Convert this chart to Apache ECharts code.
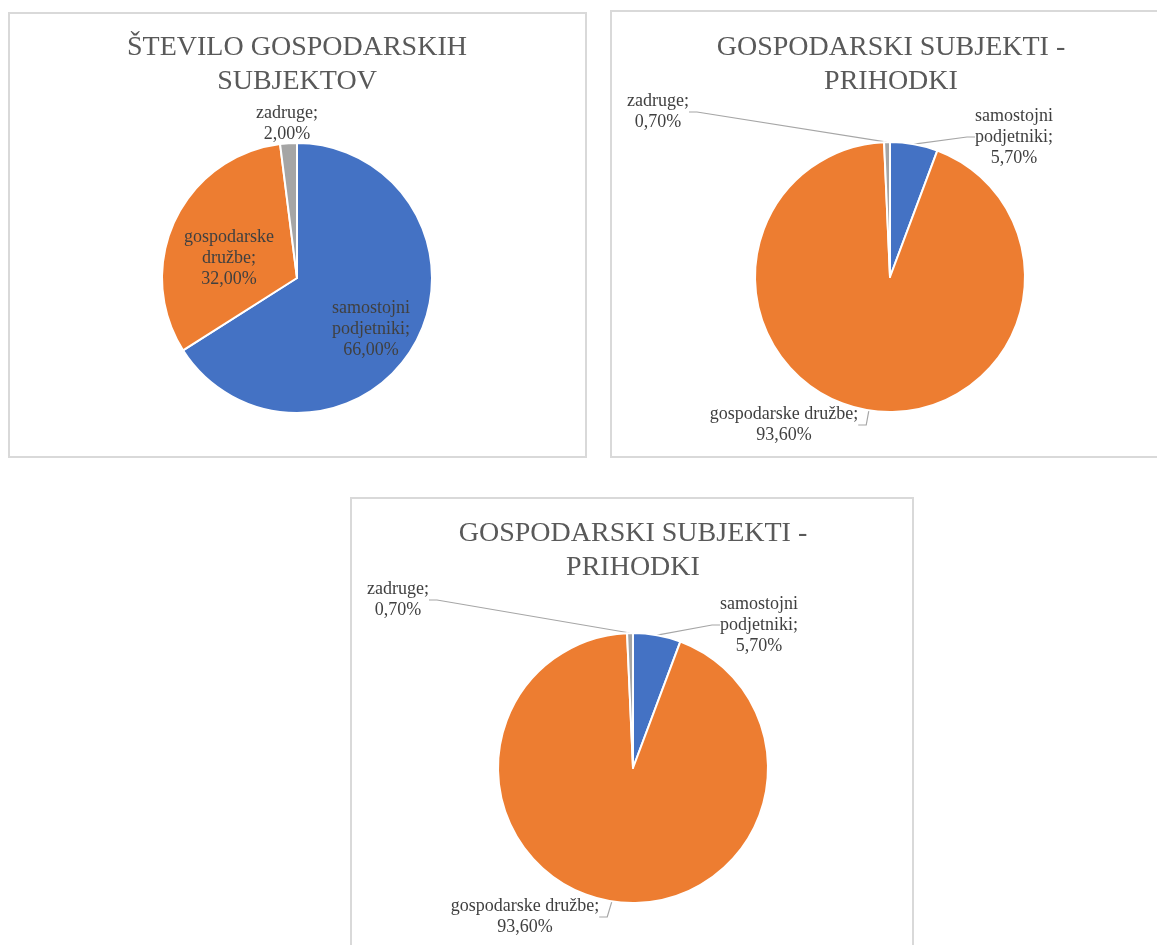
<!DOCTYPE html>
<html>
<head>
<meta charset="utf-8">
<title>Gospodarski subjekti</title>
<script src="https://cdn.jsdelivr.net/npm/echarts@6/dist/echarts.min.js"></script>
<style>
    html, body { margin: 0; padding: 0; background: #fff; }
    #main { width: 1157px; height: 945px; }
</style>
</head>
<body>
<div id="main"></div>
<script>
// podatki
var kategorije = ['samostojni podjetniki', 'gospodarske družbe', 'zadruge'];
var steviloDelez = [66, 32, 2];
var prihodkiDelez = [5.7, 93.6, 0.7];
var prihodkiDelez2 = [5.7, 93.6, 0.7];
var oznake1 = ['samostojni\npodjetniki;', 'gospodarske\ndružbe;', 'zadruge;'];
var oznake2 = ['samostojni\npodjetniki;', 'gospodarske družbe;', 'zadruge;'];
var naslovi = ['ŠTEVILO GOSPODARSKIH\nSUBJEKTOV', 'GOSPODARSKI SUBJEKTI -\nPRIHODKI', 'GOSPODARSKI SUBJEKTI -\nPRIHODKI'];

var barve = ['#4472c4', '#ed7d31', '#a5a5a5'];
var pisava = 'Liberation Serif';

function podatki(vrednosti, oznake) {
    return kategorije.map(function (k, i) {
        return { name: k, value: vrednosti[i], oznaka: oznake[i] };
    });
}

function odstotek(params) {
    return params.data.oznaka + '\n' + params.value.toFixed(2).replace('.', ',') + '%';
}

// pozicije oznak (v pikslih) za vsak graf
function postavi(pos) {
    return function (params) {
        var p = pos[params.dataIndex];
        return { x: p[0], y: p[1], align: 'center', verticalAlign: 'middle' };
    };
}

function naslov(text, x, y) {
    return {
        text: text,
        left: x,
        top: y,
        textAlign: 'center',
        padding: 0,
        textStyle: {
            fontFamily: pisava,
            fontSize: 28,
            lineHeight: 34,
            fontWeight: 'normal',
            color: '#595959'
        }
    };
}

function pita(vrednosti, oznake, center, pos, crta) {
    return {
        type: 'pie',
        radius: 135,
        center: center,
        startAngle: 90,
        clockwise: true,
        avoidLabelOverlap: false,
        animation: false,
        color: barve,
        itemStyle: { borderColor: '#fff', borderWidth: 2 },
        label: {
            show: true,
            position: 'outside',
            formatter: odstotek,
            fontFamily: pisava,
            fontSize: 18,
            lineHeight: 21,
            color: '#404040'
        },
        labelLine: {
            show: crta,
            length: 10,
            length2: 8,
            lineStyle: { color: '#a6a6a6', width: 1.2 }
        },
        labelLayout: postavi(pos),
        emphasis: { disabled: true },
        data: podatki(vrednosti, oznake)
    };
}

var chart = echarts.init(document.getElementById('main'));
chart.setOption({
    backgroundColor: '#fff',
    title: [
        naslov(naslovi[0], 297, 31),
        naslov(naslovi[1], 891, 31),
        naslov(naslovi[2], 633, 517)
    ],
    graphic: [
        { type: 'rect', shape: { x: 9, y: 13, width: 577, height: 444 }, style: { fill: 'none', stroke: '#d9d9d9', lineWidth: 2 } },
        { type: 'rect', shape: { x: 611, y: 11, width: 560, height: 446 }, style: { fill: 'none', stroke: '#d9d9d9', lineWidth: 2 } },
        { type: 'rect', shape: { x: 351, y: 498, width: 562, height: 460 }, style: { fill: 'none', stroke: '#d9d9d9', lineWidth: 2 } }
    ],
    series: [
        pita(steviloDelez, oznake1, [297, 278], [[371, 329], [229, 258], [287, 124]], false),
        pita(prihodkiDelez, oznake2, [890, 277], [[1014, 137], [784, 425], [658, 112]], true),
        pita(prihodkiDelez2, oznake2, [633, 768], [[759, 625], [525, 917], [398, 600]], true)
    ]
});
</script>
</body>
</html>
